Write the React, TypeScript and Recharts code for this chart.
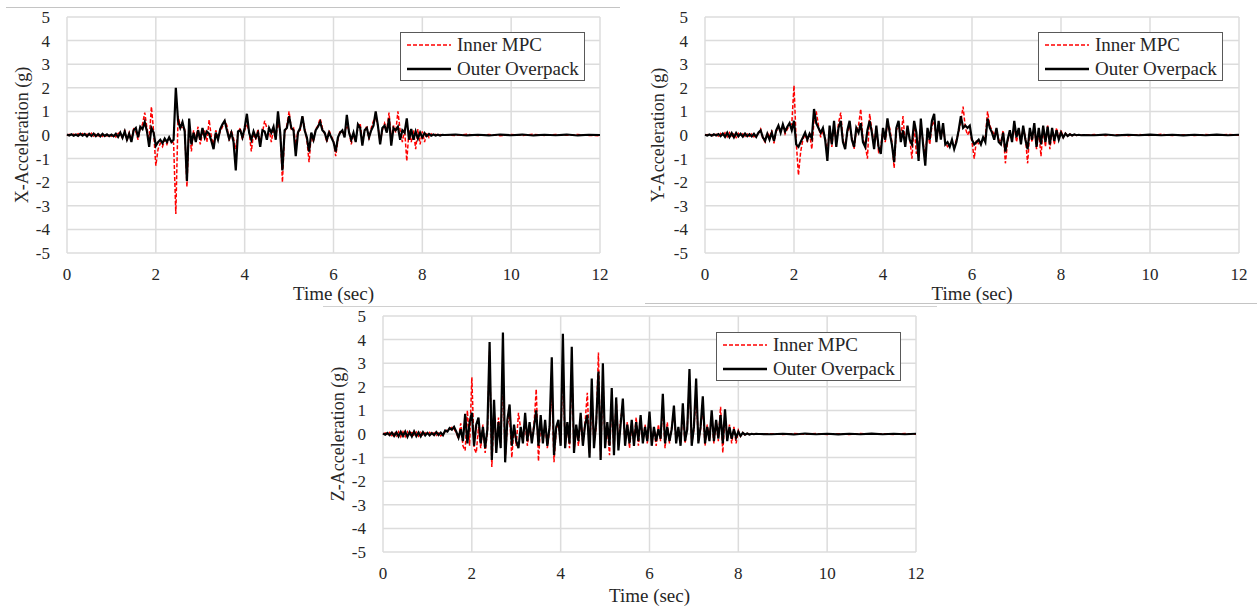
import { LineChart, Line, XAxis, YAxis, CartesianGrid, Legend } from 'recharts';

const STEP = 0.05; // main arrays: 0 .. 8.5 s
const TAIL_START = 8.75;
const TAIL_STEP = 0.25; // tail arrays: 8.75 .. 12 s

const timeTicks = [0, 2, 4, 6, 8, 10, 12];
const accelTicks = [-5, -4, -3, -2, -1, 0, 1, 2, 3, 4, 5];

// ---- X direction ----
const xInner = [
  -0.02, 0.03, -0.03, 0.04, -0.02, 0.05, -0.04, 0.06, -0.05, 0.04,
  -0.06, 0.07, -0.05, 0.06, -0.04, 0.05, -0.06, 0.05, -0.04, 0.04,
  -0.05, 0.04, -0.08, 0.06, 0.12, -0.15, 0.22, -0.25, 0.10, -0.20,
  0.25, 0.15, -0.20, 0.30, 0.45, 0.95, 0.30, -0.25, 1.20, 0.15,
  -1.30, -0.60, -0.35, -0.50, -0.20, -0.40, -0.15, -0.25, -0.35, -3.35,
  0.80, 0.40, 0.30, 0.25, -2.20, 0.50, -0.70, 0.20, -0.20, 0.35,
  -0.40, 0.10, 0.20, -0.30, 0.65, -0.10, -0.40, 0.20, -0.10, 0.15,
  0.35, 0.60, 0.40, -0.25, 0.20, -0.15, -0.60, 0.10, 0.30, -0.20,
  0.20, 0.40, 0.15, -0.70, 0.10, -0.20, 0.25, -0.30, 0.10, 0.60,
  0.30, 0.25, -0.30, 0.30, -0.10, 0.50, 0.20, -2.00, 0.10, 0.40,
  1.00, 0.25, 0.30, -0.40, 0.15, 0.20, 0.80, 0.30, -0.20, -1.15,
  0.05, -0.30, 0.25, 0.40, 0.70, 0.30, 0.05, -0.30, 0.20, -0.05,
  -0.25, -0.90, -0.20, 0.20, 0.10, 0.15, 0.40, 0.20, -0.40, 0.05,
  -0.20, 0.30, 0.50, -0.30, 0.15, 0.40, -0.20, 0.30, 0.60, 0.70,
  0.40, -0.30, 0.20, 0.50, 0.20, 0.95, -0.20, 0.40, 0.10, 1.00,
  0.20, -0.30, 0.25, -1.10, 0.20, -0.30, 0.20, -0.60, 0.25, -0.40,
  0.15, -0.30, 0.10, -0.10, 0.05, -0.04, 0.03, -0.02, 0.02, -0.01,
  0.01,
];
const xOuter = [
  0.02, -0.02, 0.03, -0.03, 0.02, -0.04, 0.05, -0.03, 0.04, -0.06,
  0.05, -0.04, 0.06, -0.05, 0.04, -0.06, 0.05, -0.04, 0.03, -0.05,
  0.02, -0.05, 0.05, -0.08, 0.10, -0.12, 0.15, -0.20, 0.05, -0.30,
  0.20, 0.30, -0.10, 0.35, 0.25, 0.55, 0.15, -0.50, 0.30, 0.10,
  -0.45, -0.30, -0.20, -0.35, -0.15, -0.30, -0.10, -0.30, -0.20, 2.00,
  0.60, 0.30, 0.55, 0.15, -1.95, 0.70, -0.40, 0.10, -0.30, 0.20,
  -0.20, 0.30, -0.10, 0.15, 0.05, -0.25, -0.60, 0.10, -0.20, 0.25,
  0.45, 0.60, 0.20, -0.15, 0.10, -0.30, -1.50, 0.15, 0.20, -0.10,
  0.30, 0.90, 0.10, -0.20, 0.15, -0.10, 0.10, -0.50, 0.20, 0.15,
  -0.20, 0.30, 0.10, 0.35, -0.20, 1.00, 0.10, -1.50, 0.20, 0.30,
  0.80, 0.30, 0.20, -0.90, 0.10, 0.30, 0.80, 0.20, -0.10, -0.70,
  0.10, -0.20, 0.20, 0.35, 0.55, 0.20, 0.10, -0.20, 0.10, -0.10,
  -0.30, -0.70, -0.10, 0.10, 0.20, -0.10, 0.85, 0.10, -0.20, 0.10,
  -0.30, 0.45, 0.30, -0.45, 0.20, 0.30, -0.10, 0.20, 0.40, 1.00,
  0.40, -0.40, 0.30, 0.40, 0.10, 0.70, -0.45, 0.30, 0.20, 0.35,
  -0.20, 0.20, 0.10, 0.70, -0.20, 0.25, -0.20, 0.15, -0.15, 0.10,
  -0.10, 0.08, -0.05, 0.04, -0.03, 0.02, -0.02, 0.01, -0.02, 0.01,
  0.00,
];
const xInnerTail = [-0.02, 0.03, -0.02, 0.02, -0.03, 0.02, -0.02, 0.03, -0.02, 0.02, -0.01, 0.02, -0.02, -0.03];
const xOuterTail = [0.02, -0.02, 0.01, -0.02, 0.02, -0.01, 0.02, -0.02, 0.01, -0.01, 0.02, -0.02, 0.01, 0.0];

// ---- Y direction ----
const yInner = [
  -0.01, 0.02, -0.03, 0.02, -0.04, 0.03, -0.05, 0.06, -0.07, 0.09,
  -0.08, 0.10, -0.09, 0.08, -0.10, 0.07, -0.06, 0.05, -0.06, 0.04,
  -0.05, 0.05, -0.08, 0.03, 0.06, 0.25, -0.15, -0.30, 0.10, -0.10,
  0.20, -0.35, 0.15, 0.30, 0.20, 0.35, 0.05, 0.25, 0.40, 0.45,
  2.10, -0.30, -1.70, -0.70, -0.20, 0.05, -0.30, 0.10, -0.60, 0.60,
  1.00, 0.40, -0.10, 0.20, -0.10, -0.80, 0.30, -0.50, 0.40, -0.30,
  0.50, 0.95, -0.20, -0.50, 0.10, 0.40, -0.10, -0.60, 0.20, 0.40,
  1.10, -0.20, -0.40, -1.00, 0.90, 0.20, -0.40, 0.30, -0.70, -0.50,
  0.20, -0.30, 0.50, 0.30, -0.30, -1.40, 0.20, 0.40, -0.20, 0.80,
  -0.40, 0.30, -0.10, -1.00, 0.40, -0.80, -0.50, 0.50, -0.30, -0.90,
  0.20, -0.40, 0.40, 0.60, -0.20, 0.40, -0.10, 0.30, -0.30, -0.50,
  -0.40, -0.30, -0.50, -0.20, 0.10, 0.60, 1.20, 0.30, 0.00, 0.20,
  -0.30, -1.00, -0.20, -0.40, -0.30, -0.20, -0.10, 1.00, 0.40, 0.20,
  0.00, 0.20, -0.20, -0.30, 0.20, -1.20, -0.30, 0.10, -0.20, 0.40,
  -0.30, 0.20, -0.30, 0.30, -0.10, -1.20, 0.20, -0.30, 0.40, -0.60,
  0.20, -0.90, 0.30, -0.50, 0.40, -0.60, 0.20, -0.40, 0.30, -0.15,
  0.20, -0.10, 0.08, -0.05, 0.04, -0.03, 0.02, -0.02, 0.01, -0.01,
  0.00,
];
const yOuter = [
  0.01, -0.02, 0.02, -0.03, 0.03, -0.02, 0.04, -0.05, 0.06, -0.08,
  0.10, -0.09, 0.08, -0.10, 0.09, -0.06, 0.05, -0.07, 0.06, -0.05,
  0.03, -0.06, 0.05, -0.08, 0.10, 0.20, -0.10, -0.25, 0.05, -0.20,
  0.10, -0.25, 0.20, 0.40, 0.10, 0.45, 0.15, 0.35, 0.50, 0.20,
  0.60, -0.40, -0.50, -0.30, -0.10, 0.10, -0.20, 0.05, -0.15, 1.10,
  0.50, 0.30, 0.10, 0.30, -0.20, -1.10, 0.40, -0.40, 0.60, -0.50,
  0.30, 0.60, -0.30, -0.60, 0.20, 0.60, -0.20, -0.50, 0.30, 0.10,
  0.50, -0.30, -0.50, 0.20, 0.60, 0.10, -0.60, 0.40, -0.50, -0.80,
  0.30, -0.20, 0.70, 0.10, -0.40, -1.15, 0.30, 0.60, -0.30, 0.20,
  -0.50, 0.40, -0.20, -0.40, 0.60, 0.10, -1.10, 0.70, -0.40, -1.30,
  0.30, -0.20, 0.60, 0.90, -0.30, 0.60, -0.20, 0.50, -0.40, -0.30,
  -0.50, -0.20, -0.60, -0.30, 0.20, 0.80, 0.30, 0.40, 0.30, 0.40,
  -0.20, -0.40, -0.30, -0.20, -0.40, -0.10, -0.30, 0.70, 0.30, 0.10,
  -0.20, 0.30, -0.30, -0.40, 0.10, -0.70, -0.20, 0.20, -0.30, 0.60,
  -0.10, 0.30, -0.40, 0.40, -0.20, -0.60, 0.30, -0.20, 0.50, -0.50,
  0.30, -0.40, 0.40, -0.30, 0.35, -0.40, 0.30, -0.25, 0.20, -0.20,
  0.10, -0.10, 0.06, -0.04, 0.03, -0.02, 0.02, -0.01, 0.01, -0.01,
  0.00,
];
const yInnerTail = [0.02, -0.02, 0.01, -0.03, 0.02, -0.02, 0.03, -0.02, 0.01, -0.02, 0.02, -0.01, 0.02, -0.01];
const yOuterTail = [-0.01, 0.02, -0.02, 0.01, -0.01, 0.02, -0.01, 0.01, -0.02, 0.01, -0.01, 0.02, -0.01, 0.01];

// ---- Z direction ----
const zInner = [
  -0.02, 0.04, -0.05, 0.06, -0.07, 0.09, -0.08, 0.10, -0.12, 0.09,
  -0.11, 0.10, -0.09, 0.12, -0.10, 0.08, -0.09, 0.07, -0.08, 0.05,
  -0.04, 0.07, -0.03, 0.05, -0.06, 0.04, -0.08, 0.03, 0.10, 0.18,
  0.20, 0.28, 0.22, 0.05, -0.20, 0.45, -0.50, -0.70, 1.00, -0.50,
  2.40, -0.60, -0.80, 0.30, -0.60, 0.40, -0.80, 0.10, 3.50, -1.40,
  1.00, -0.60, 0.70, -0.40, 2.60, -1.10, 0.40, 0.80, -1.00, 0.30,
  -0.50, 0.90, 0.20, -0.30, 0.50, -0.50, 0.30, -0.20, 0.40, 1.90,
  -1.15, 0.50, -0.30, 0.40, -0.60, 0.20, 2.00, -1.20, 0.20, 0.40,
  -0.40, 3.00, -0.50, 0.40, -0.60, 2.80, -0.70, 0.30, -0.50, 0.60,
  -0.40, 0.50, 1.75, -0.80, 1.50, -0.40, 0.30, 3.45, -1.00, 2.50,
  -0.40, 0.30, -0.90, 1.40, -0.80, 1.50, -0.50, 0.60, 1.20, -0.40,
  0.50, -0.60, 0.40, -0.30, 0.70, -0.50, 0.60, -0.30, 0.40, -0.40,
  0.70, -0.30, 0.20, -0.50, 0.40, -0.30, 1.20, -0.60, 0.50, -0.40,
  0.30, 0.90, -0.30, 0.20, -0.40, 1.00, -0.40, 0.30, 2.20, -0.40,
  0.20, 1.80, -0.30, 0.20, 1.20, -0.50, 0.40, -0.20, 0.80, -0.40,
  0.50, -0.30, 1.15, -0.80, 0.80, -0.20, 0.40, -0.40, 0.30, -0.40,
  0.15, -0.10, 0.06, -0.04, 0.03, -0.02, 0.02, -0.01, 0.01, -0.01,
  0.00,
];
const zOuter = [
  0.02, -0.03, 0.04, -0.05, 0.06, -0.08, 0.07, -0.10, 0.09, -0.08,
  0.10, -0.12, 0.08, -0.10, 0.11, -0.09, 0.07, -0.10, 0.08, -0.06,
  0.05, -0.06, 0.04, -0.05, 0.08, -0.04, 0.06, -0.05, 0.15, 0.10,
  0.25, 0.18, 0.30, 0.10, -0.15, 0.20, -0.30, 0.85, -0.40, 0.50,
  0.90, -0.50, 0.40, 0.70, -0.40, 0.30, -0.60, 0.20, 3.90, -1.10,
  1.45, -0.80, 0.50, -0.60, 4.30, -1.20, 0.60, 1.25, -0.50, 0.40,
  -0.30, -0.60, 0.30, -0.40, 0.90, -0.30, 0.50, -0.40, 0.30, 1.00,
  -0.50, 0.80, -0.40, 0.60, -0.50, 0.30, 3.25, -0.90, 0.30, 0.60,
  -0.50, 4.25, -0.60, 0.50, -0.40, 3.70, -0.80, 0.40, -0.30, 0.90,
  -0.50, 0.40, 0.80, -1.00, 2.35, -0.60, 0.50, 2.65, -1.10, 3.00,
  -0.60, 0.50, -0.50, 1.95, -0.90, 1.55, -0.70, 0.40, 1.50, -0.50,
  0.40, -0.40, 0.60, -0.50, 0.50, -0.30, 0.80, -0.40, 0.30, -0.30,
  0.95, -0.50, 0.30, -0.30, 0.20, -0.20, 1.70, -0.40, 0.30, -0.30,
  0.20, 1.20, -0.40, 0.30, -0.50, 1.30, -0.30, 0.20, 2.75, -0.50,
  0.30, 2.35, -0.40, 0.30, 1.60, -0.40, 0.30, -0.30, 1.00, -0.30,
  0.60, -0.20, 0.80, -0.40, 1.05, -0.30, 0.30, -0.20, 0.20, -0.15,
  0.10, -0.08, 0.05, -0.03, 0.02, -0.02, 0.01, -0.01, 0.01, 0.00,
  0.00,
];
const zInnerTail = [0.01, -0.02, 0.02, -0.01, 0.02, -0.02, 0.01, -0.02, 0.02, -0.01, 0.01, -0.02, 0.02, -0.01];
const zOuterTail = [-0.01, 0.01, -0.02, 0.02, -0.01, 0.01, -0.02, 0.01, -0.01, 0.02, -0.01, 0.01, -0.01, 0.01];

const series = [
  { key: 'inner', name: 'Inner MPC', color: '#ff0000', width: 1.5, dash: '4 2' },
  { key: 'outer', name: 'Outer Overpack', color: '#000000', width: 2.2, dash: undefined },
];

const FONT = '"Liberation Serif", "Times New Roman", serif';
const TEXT = '#262626';
const GRID = '#dcdcdc';

function buildRows(inner: number[], outer: number[], innerTail: number[], outerTail: number[]) {
  const rows = inner.map((v, i) => ({ t: +(i * STEP).toFixed(2), inner: v, outer: outer[i] }));
  innerTail.forEach((v, i) => rows.push({ t: TAIL_START + i * TAIL_STEP, inner: v, outer: outerTail[i] }));
  return rows;
}

const xRows = buildRows(xInner, xOuter, xInnerTail, xOuterTail);
const yRows = buildRows(yInner, yOuter, yInnerTail, yOuterTail);
const zRows = buildRows(zInner, zOuter, zInnerTail, zOuterTail);

function LegendBox() {
  return (
    <div
      style={{
        width: 185,
        height: 49,
        boxSizing: 'border-box',
        border: '1.5px solid #595959',
        background: '#fff',
        fontFamily: FONT,
        fontSize: 19,
        color: TEXT,
        paddingTop: 0,
      }}
    >
      {series.map((s) => (
        <div key={s.key} style={{ display: 'flex', alignItems: 'center', height: 24, lineHeight: '24px' }}>
          <svg width={52} height={6} style={{ flex: 'none' }}>
            <line x1={6} x2={50} y1={3} y2={3} stroke={s.color} strokeWidth={s.key === 'outer' ? 2.5 : 1.5} strokeDasharray={s.dash} />
          </svg>
          <span style={{ marginLeft: 4, whiteSpace: 'nowrap' }}>{s.name}</span>
        </div>
      ))}
    </div>
  );
}

interface AccelChartProps {
  data: { t: number; inner: number; outer: number }[];
  title: string;
  width: number;
  height: number;
  top: number;
  right: number;
  axisWidth: number;
  titleOffset: number;
  legendLeft: number;
}

function AccelChart({ data, title, width, height, top, right, axisWidth, titleOffset, legendLeft }: AccelChartProps) {
  const tick = { fill: TEXT, fontSize: 17, fontFamily: FONT };
  return (
    <LineChart width={width} height={height} data={data} margin={{ top, right, bottom: 0, left: 0 }}>
      <CartesianGrid stroke={GRID} strokeWidth={1.5} />
      <XAxis
        dataKey="t"
        type="number"
        domain={[0, 12]}
        ticks={timeTicks}
        interval={0}
        height={height - top - 236}
        tickLine={false}
        axisLine={false}
        tickSize={0}
        tickMargin={15}
        tick={tick}
        label={{ value: 'Time (sec)', position: 'insideBottom', offset: 5, fill: TEXT, fontSize: 19, fontFamily: FONT }}
      />
      <YAxis
        type="number"
        domain={[-5, 5]}
        ticks={accelTicks}
        interval={0}
        width={axisWidth}
        tickLine={false}
        axisLine={false}
        tickSize={0}
        tickMargin={17}
        tick={tick}
        label={{
          content: (props: any) => {
            const vb = props.viewBox || { x: 0, y: top, height: 236 };
            const cx = vb.x + titleOffset;
            const cy = vb.y + vb.height / 2;
            return (
              <text
                x={cx}
                y={cy}
                transform={`rotate(-90 ${cx} ${cy})`}
                textAnchor="middle"
                dominantBaseline="central"
                fill={TEXT}
                fontSize={18}
                fontFamily={FONT}
              >
                {title}
              </text>
            );
          },
        }}
      />
      <Legend
        layout="vertical"
        align="center"
        verticalAlign="middle"
        content={() => <LegendBox />}
        wrapperStyle={{ left: legendLeft, top: 32, width: 'auto', height: 'auto' }}
      />
      {series.map((s) => (
        <Line
          key={s.key}
          dataKey={s.key}
          name={s.name}
          type="linear"
          stroke={s.color}
          strokeWidth={s.width}
          strokeDasharray={s.dash}
          dot={false}
          activeDot={false}
          isAnimationActive={false}
        />
      ))}
    </LineChart>
  );
}

export default function App() {
  return (
    <div style={{ position: 'absolute', left: 0, top: 0, width: 1257, height: 607, background: '#fff', overflow: 'hidden' }}>
      <div style={{ position: 'absolute', left: 6, top: 7, width: 614, height: 1, background: '#c4c4c4' }} />
      <div style={{ position: 'absolute', left: 645, top: 303, width: 612, height: 1, background: '#c4c4c4' }} />
      <div style={{ position: 'absolute', left: 323, top: 306, width: 614, height: 1, background: '#d0d0d0' }} />

      <div style={{ position: 'absolute', left: 0, top: 0 }}>
        <AccelChart data={xRows} title="X-Acceleration (g)" width={620} height={305} top={17} right={20} axisWidth={67} titleOffset={22} legendLeft={400} />
      </div>
      <div style={{ position: 'absolute', left: 630, top: 0 }}>
        <AccelChart data={yRows} title="Y-Acceleration (g)" width={627} height={305} top={17} right={18} axisWidth={75} titleOffset={28} legendLeft={408} />
      </div>
      <div style={{ position: 'absolute', left: 320, top: 300 }}>
        <AccelChart data={zRows} title="Z-Acceleration (g)" width={620} height={307} top={16} right={24} axisWidth={63} titleOffset={18} legendLeft={396} />
      </div>
    </div>
  );
}
